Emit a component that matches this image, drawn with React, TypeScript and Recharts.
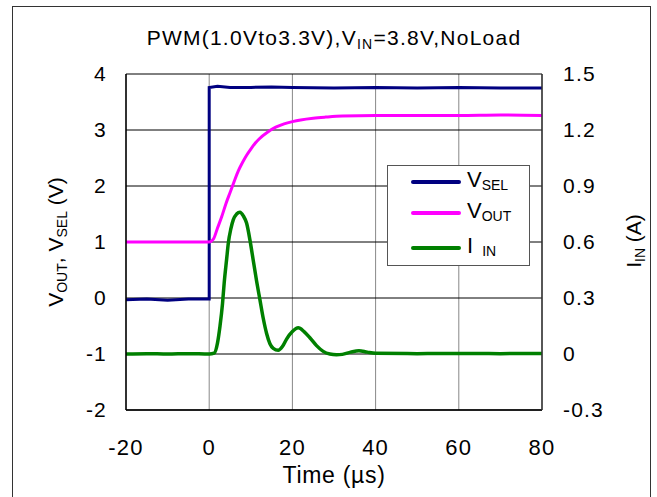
import { LineChart, Line, XAxis, YAxis, CartesianGrid, Legend } from "recharts";

// time axis (µs)
const timeTicks = [-20, 0, 20, 40, 60, 80];
const voltTicks = [-2, -1, 0, 1, 2, 3, 4];
const ampTicks = [-0.3, 0, 0.3, 0.6, 0.9, 1.2, 1.5];

// V_SEL (V)
const vselTime = [-20, -15, -10, -5, 0, 0, 2, 5, 10, 15, 20, 30, 40, 50, 60, 70, 80];
const vselValue = [-0.03, -0.02, -0.04, -0.02, -0.02, 3.76, 3.78, 3.76, 3.76, 3.77, 3.76, 3.75, 3.76, 3.75, 3.76, 3.75, 3.75];

// V_OUT (V)
const voutTime = [-20, 0, 1, 2, 3, 4, 5, 6, 7, 8, 9, 10, 11, 12, 14, 16, 18, 20, 22, 25, 28, 32, 40, 50, 60, 70, 80];
const voutValue = [1.0, 1.0, 1.05, 1.25, 1.45, 1.68, 1.88, 2.08, 2.27, 2.42, 2.55, 2.66, 2.76, 2.84, 2.96, 3.05, 3.11, 3.15, 3.18, 3.21, 3.23, 3.25, 3.26, 3.26, 3.26, 3.27, 3.26];

// I_IN (A)
const iinTime = [-20, -15, -10, -5, 0, 1.2, 2, 2.6, 3.2, 3.6, 4.2, 4.6, 5.2, 5.8, 6.6, 7.4, 8.2, 9, 9.8, 10.6, 11.4, 12.2, 13, 13.8, 14.6, 15.4, 16.6, 17.6, 18.6, 20, 21.4, 22.8, 24.2, 25.8, 27.4, 29, 30.6, 32, 34, 36, 38, 40, 50, 60, 70, 80];
const iinValue = [0, 0.002, 0, 0.002, 0, 0.005, 0.06, 0.15, 0.27, 0.38, 0.51, 0.595, 0.67, 0.72, 0.75, 0.76, 0.74, 0.7, 0.61, 0.5, 0.39, 0.29, 0.19, 0.11, 0.055, 0.03, 0.02, 0.04, 0.08, 0.12, 0.14, 0.12, 0.087, 0.045, 0.014, 0, -0.004, -0.002, 0.01, 0.018, 0.01, 0.004, 0.002, 0.003, 0.002, 0.003];

const vselData = vselTime.map((t, i) => ({ t, v: vselValue[i] }));
const voutData = voutTime.map((t, i) => ({ t, v: voutValue[i] }));
const iinData = iinTime.map((t, i) => ({ t, a: iinValue[i] }));

const FONT = "'Liberation Sans', Arial, sans-serif";
const NAVY = "#000080";
const MAGENTA = "#ff00ff";
const GREEN = "#008000";

function LeftAxisLabel() {
  return (
    <text x={63} y={242} transform="rotate(-90 63 242)" textAnchor="middle" fontSize={21} fontFamily={FONT} fill="#000">
      <tspan>V</tspan>
      <tspan dy={4} fontSize={14}>OUT</tspan>
      <tspan dy={-4}>, V</tspan>
      <tspan dy={4} fontSize={14}>SEL</tspan>
      <tspan dy={-4}> (V)</tspan>
    </text>
  );
}

function RightAxisLabel() {
  return (
    <text x={641} y={241} transform="rotate(-90 641 241)" textAnchor="middle" fontSize={21} fontFamily={FONT} fill="#000">
      <tspan>I</tspan>
      <tspan dy={4} fontSize={14}>IN</tspan>
      <tspan dy={-4}> (A)</tspan>
    </text>
  );
}

function TimeLabel() {
  return (
    <text x={334} y={483} textAnchor="middle" fontSize={23} letterSpacing={0.7} fontFamily={FONT} fill="#000">
      Time (µs)
    </text>
  );
}

function LegendBox() {
  const rows = [
    { color: NAVY, main: "V", sub: "SEL", y: 16, gap: 0 },
    { color: MAGENTA, main: "V", sub: "OUT", y: 47, gap: 0 },
    { color: GREEN, main: "I", sub: "IN", y: 82, gap: 9 },
  ];
  return (
    <div style={{ position: "relative", width: 143, height: 101, background: "#fff", border: "1px solid #555", boxSizing: "border-box", fontFamily: FONT }}>
      {rows.map((r) => (
        <div key={r.sub}>
          <div style={{ position: "absolute", left: 23, top: r.y - 2, width: 50, height: 4, background: r.color, borderRadius: 2 }} />
          <div style={{ position: "absolute", left: 79, top: r.y - 13, fontSize: 22, lineHeight: "22px", whiteSpace: "nowrap", color: "#000" }}>
            {r.main}
            <span style={{ fontSize: 14, position: "relative", top: 3, marginLeft: r.gap }}>{r.sub}</span>
          </div>
        </div>
      ))}
    </div>
  );
}

const tickStyle = { fontSize: 21, fill: "#000", fontFamily: FONT, letterSpacing: 1.2 };

export default function App() {
  return (
    <div style={{ position: "absolute", left: 0, top: 0, width: 657, height: 497, background: "#fff", overflow: "hidden", fontFamily: FONT }}>
      <div style={{ position: "absolute", left: 12, top: 6, width: 639, height: 520, border: "1.5px solid #333", boxSizing: "border-box" }} />
      <div style={{ position: "absolute", left: 100, top: 27, width: 468, textAlign: "center", fontSize: 21, letterSpacing: 1.25, lineHeight: "21px", whiteSpace: "nowrap", color: "#000" }}>
        PWM(1.0Vto3.3V),V<span style={{ fontSize: 14, position: "relative", top: 4 }}>IN</span>=3.8V,NoLoad
      </div>
      <LineChart width={657} height={497} margin={{ top: 74, right: 35, left: 56, bottom: 27 }} style={{ position: "absolute", left: 0, top: 0 }}>
        <CartesianGrid yAxisId="v" horizontal={false} stroke="#888" strokeWidth={1} />
        <CartesianGrid yAxisId="v" vertical={false} stroke="#000" strokeWidth={1} />
        <XAxis
          type="number"
          dataKey="t"
          domain={[-20, 80]}
          ticks={timeTicks}
          allowDataOverflow
          height={60}
          tickLine={false}
          tickSize={0}
          tickMargin={29}
          axisLine={{ stroke: "#000", strokeWidth: 1.5 }}
          tick={{ ...tickStyle, fontSize: 22 }}
          label={<TimeLabel />}
        />
        <YAxis
          yAxisId="v"
          domain={[-2, 4]}
          ticks={voltTicks}
          allowDataOverflow
          width={70}
          tickLine={false}
          tickSize={0}
          tickMargin={19}
          axisLine={{ stroke: "#000", strokeWidth: 1.5 }}
          tick={tickStyle}
          label={<LeftAxisLabel />}
        />
        <YAxis
          yAxisId="i"
          orientation="right"
          domain={[-0.3, 1.5]}
          ticks={ampTicks}
          allowDataOverflow
          width={80}
          tickLine={false}
          tickSize={0}
          tickMargin={21}
          tickFormatter={(v: number) => String(v)}
          axisLine={{ stroke: "#333", strokeWidth: 1.5 }}
          tick={tickStyle}
          label={<RightAxisLabel />}
        />
        <Legend
          layout="vertical"
          align="center"
          verticalAlign="middle"
          wrapperStyle={{ left: 387, top: 165, width: 143, height: 101 }}
          content={() => <LegendBox />}
        />
        <Line yAxisId="v" data={vselData} dataKey="v" type="linear" stroke={NAVY} strokeWidth={3} dot={false} isAnimationActive={false} />
        <Line yAxisId="v" data={voutData} dataKey="v" type="monotone" stroke={MAGENTA} strokeWidth={3} dot={false} isAnimationActive={false} />
        <Line yAxisId="i" data={iinData} dataKey="a" type="monotone" stroke={GREEN} strokeWidth={3.5} dot={false} isAnimationActive={false} />
      </LineChart>
    </div>
  );
}
